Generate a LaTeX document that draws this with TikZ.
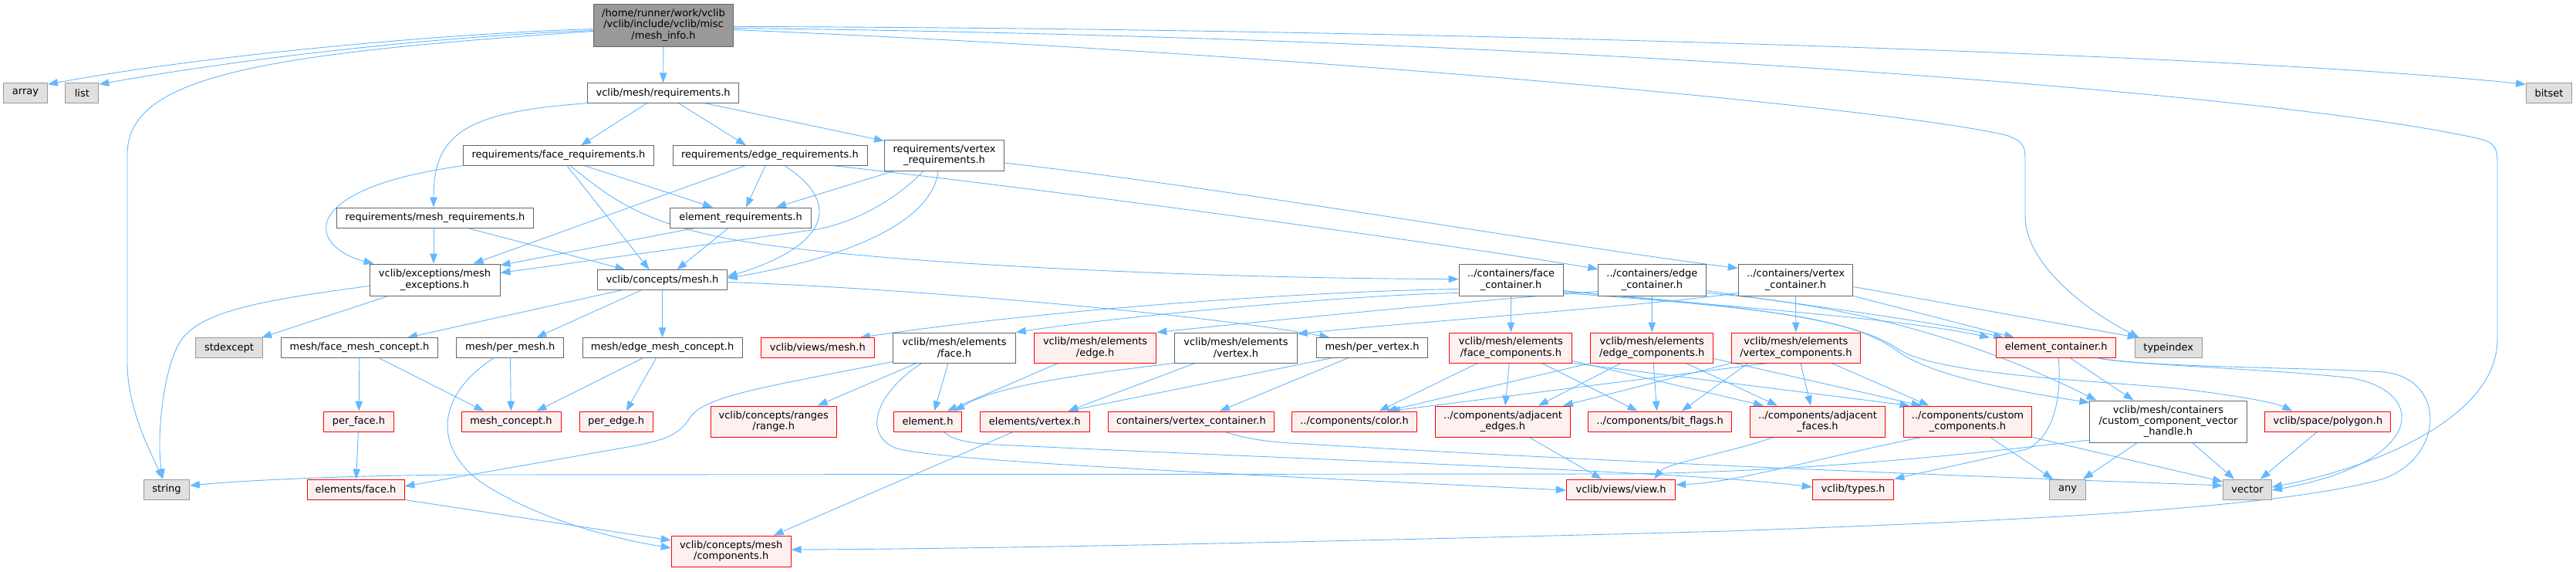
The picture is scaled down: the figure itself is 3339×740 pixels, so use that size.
\documentclass[tikz,border=0pt]{standalone}
\usepackage{fontspec}
\setmainfont{DejaVu Sans}
\usetikzlibrary{arrows.meta}
\pgfdeclarelayer{bg}
\pgfsetlayers{bg,main}
\definecolor{eblue}{HTML}{63B8FF}
\definecolor{nborder}{HTML}{666666}
\definecolor{gborder}{HTML}{999999}
\definecolor{gfill}{HTML}{E0E0E0}
\definecolor{rfill}{HTML}{FFF0F0}
\definecolor{rootfill}{HTML}{999999}
\tikzset{
 box/.style={rectangle, draw, line width=0.9pt, inner sep=0pt, align=center, font=\fontsize{13}{14.4}\selectfont, minimum height=25.5pt},
 wn/.style={box, draw=nborder, fill=white},
 gn/.style={box, draw=gborder, fill=gfill},
 rn/.style={box, draw=red, fill=rfill},
 rootn/.style={box, draw=nborder, fill=rootfill},
 e/.style={draw=eblue, line width=0.9pt, -{Triangle[length=13pt,width=9.5pt]}},
}
\begin{document}
\begin{tikzpicture}[x=1pt,y=-1pt]
\useasboundingbox (0,0) rectangle (3339,740);
% nodes
\node[rootn, minimum width=181pt, minimum height=55pt] (root) at (860,32.5) {/home/runner/work/vclib\\/vclib/include/vclib/misc\\/mesh\_info.h};
\node[gn, minimum width=57pt] (array) at (33,120.5) {array};
\node[gn, minimum width=43pt] (list) at (106.4,120.5) {list};
\node[gn, minimum width=59pt, minimum height=26pt] (string) at (216,634) {string};
\node[gn, minimum width=87pt] (stdexcept) at (297,450.5) {stdexcept};
\node[wn, minimum width=203pt] (fmc) at (466,450.5) {mesh/face\_mesh\_concept.h};
\node[rn, minimum width=91pt, minimum height=26pt] (perface) at (465,546) {per\_face.h};
\node[rn, minimum width=126pt, minimum height=26pt] (elface) at (461,634) {elements/face.h};
\node[wn, minimum width=169pt, minimum height=41pt] (mexc) at (563.5,362.5) {vclib/exceptions/mesh\\\_exceptions.h};
\node[wn, minimum width=255pt, minimum height=26pt] (mreq) at (564,282) {requirements/mesh\_requirements.h};
\node[wn, minimum width=196pt] (req) at (859.6,120.5) {vclib/mesh/requirements.h};
\node[wn, minimum width=247pt] (freq) at (724,201.5) {requirements/face\_requirements.h};
\node[wn, minimum width=252pt] (ereq) at (998,201.5) {requirements/edge\_requirements.h};
\node[wn, minimum width=155pt, minimum height=40pt] (vreq) at (1224,201) {requirements/vertex\\\_requirements.h};
\node[wn, minimum width=183pt, minimum height=26pt] (elreq) at (960,282) {element\_requirements.h};
\node[wn, minimum width=167.5pt] (cmesh) at (858.5,362.5) {vclib/concepts/mesh.h};
\node[wn, minimum width=139pt] (pmesh) at (661.3,450.5) {mesh/per\_mesh.h};
\node[wn, minimum width=207pt] (emc) at (858.6,450.5) {mesh/edge\_mesh\_concept.h};
\node[rn, minimum width=147pt] (vmesh) at (1059.8,450.5) {vclib/views/mesh.h};
\node[rn, minimum width=129pt, minimum height=26pt] (mconc) at (662.5,546) {mesh\_concept.h};
\node[rn, minimum width=95pt, minimum height=26pt] (pedge) at (798.6,546) {per\_edge.h};
\node[rn, minimum width=162.5pt, minimum height=40pt] (range) at (1002.7,546) {vclib/concepts/ranges\\/range.h};
\node[rn, minimum width=155pt, minimum height=40pt] (comps) at (947.7,714) {vclib/concepts/mesh\\/components.h};
\node[wn, minimum width=158.5pt, minimum height=39pt] (mef) at (1237,450.5) {vclib/mesh/elements\\/face.h};
\node[rn, minimum width=158.5pt, minimum height=39pt] (mee) at (1419.6,450.5) {vclib/mesh/elements\\/edge.h};
\node[wn, minimum width=158.5pt, minimum height=39pt] (mev) at (1602,450.5) {vclib/mesh/elements\\/vertex.h};
\node[rn, minimum width=88.6pt, minimum height=26pt] (el) at (1202.5,546) {element.h};
\node[rn, minimum width=141.8pt, minimum height=26pt] (elv) at (1341.3,546) {elements/vertex.h};
\node[rn, minimum width=215pt, minimum height=26pt] (cvc) at (1544,546) {containers/vertex\_container.h};
\node[rn, minimum width=162pt, minimum height=26pt] (color) at (1755.5,546) {../components/color.h};
\node[wn, minimum width=144pt] (pv) at (1778.6,450.5) {mesh/per\_vertex.h};
\node[wn, minimum width=135pt, minimum height=41pt] (fc) at (1958.6,362.5) {../containers/face\\\_container.h};
\node[wn, minimum width=139.3pt, minimum height=41pt] (ec) at (2141.4,362.5) {../containers/edge\\\_container.h};
\node[wn, minimum width=148.6pt, minimum height=41pt] (vc) at (2327.5,362.5) {../containers/vertex\\\_container.h};
\node[rn, minimum width=159pt, minimum height=39pt] (fcomp) at (1958.4,450.5) {vclib/mesh/elements\\/face\_components.h};
\node[rn, minimum width=159pt, minimum height=39pt] (ecomp) at (2141.2,450.5) {vclib/mesh/elements\\/edge\_components.h};
\node[rn, minimum width=167pt, minimum height=39pt] (vcomp) at (2327.9,450.5) {vclib/mesh/elements\\/vertex\_components.h};
\node[rn, minimum width=175pt, minimum height=40pt] (adje) at (1948,546) {../components/adjacent\\\_edges.h};
\node[rn, minimum width=185.4pt, minimum height=26pt] (bitf) at (2151.6,546) {../components/bit\_flags.h};
\node[rn, minimum width=141.4pt, minimum height=26pt] (view) at (2101,634) {vclib/views/view.h};
\node[rn, minimum width=154.6pt] (elc) at (2665.2,450.5) {element\_container.h};
\node[gn, minimum width=87pt] (tindex) at (2810.7,450.5) {typeindex};
\node[rn, minimum width=174.6pt, minimum height=40pt] (adjf) at (2356,546) {../components/adjacent\\\_faces.h};
\node[rn, minimum width=166.8pt, minimum height=40pt] (custc) at (2550.5,546) {../components/custom\\\_components.h};
\node[rn, minimum width=105.7pt, minimum height=26pt] (types) at (2402,634) {vclib/types.h};
\node[gn, minimum width=46.4pt, minimum height=26pt] (any) at (2680,634) {any};
\node[wn, minimum width=203.2pt, minimum height=54pt] (cvh) at (2810.5,546) {vclib/mesh/containers\\/custom\_component\_vector\\\_handle.h};
\node[gn, minimum width=63pt, minimum height=26pt] (vector) at (2913,634) {vector};
\node[rn, minimum width=163pt, minimum height=26pt] (polygon) at (3017.4,546) {vclib/space/polygon.h};
\node[gn, minimum width=59pt] (bitset) at (3304,120.5) {bitset};
% edges
\begin{pgfonlayer}{bg}
\fill[white] (0,0) rectangle (3339,740);
% root
\draw[e] ([yshift=-5pt]root.west) .. controls (560,44) and (250,74) .. ([yshift=-2pt]array.north east);
\draw[e] ([yshift=-7pt]root.west) .. controls (560,47) and (300,78) .. ([yshift=-2pt]list.north east);
\draw[e] ([yshift=-8pt]root.west) .. controls (330,70) and (165,100) .. (165,200) -- (165,470) .. controls (165,530) and (195,585) .. ([xshift=-5pt]string.north);
\draw[e] (root) -- (req);
\draw[e] ([yshift=-2pt]root.east) .. controls (1800,36) and (2900,70) .. ([yshift=-2pt]bitset.north west);
\draw[e] ([yshift=-4pt]root.east) .. controls (2000,48) and (2950,120) .. (3215,180) .. controls (3237,186) and (3237,195) .. (3237,215) -- (3237,440) .. controls (3237,540) and (3080,605) .. ([yshift=3pt]vector.east);
\draw[e] ([yshift=-6pt]root.east) .. controls (1700,70) and (2450,140) .. (2600,175) .. controls (2622,182) and (2625,190) .. (2625,205) -- (2625,280) .. controls (2625,340) and (2700,400) .. ([xshift=-38pt]tindex.north);
% requirements
\draw[e] (req.south west) .. controls (600,145) and (562,175) .. ([xshift=-2pt]mreq.north);
\draw[e] ([xshift=-21pt]req.south) -- ([xshift=29pt]freq.north);
\draw[e] ([xshift=20pt]req.south) -- ([xshift=-31pt]ereq.north);
\draw[e] ([xshift=54pt]req.south) -- ([yshift=-2pt]vreq.north west);
% face req
\draw[e] (freq.south west) .. controls (380,245) and (400,320) .. ([xshift=6pt]mexc.north west);
\draw[e] ([xshift=34pt]freq.south) -- ([xshift=-36pt]elreq.north);
\draw[e] ([xshift=11pt]freq.south) -- ([xshift=-17pt]cmesh.north);
\draw[e] ([xshift=15pt]freq.south) .. controls (790,255) and (830,290) .. (960,312) .. controls (1150,344) and (1600,361) .. ([yshift=1pt]fc.west);
% edge req
\draw[e] ([xshift=-32pt]ereq.south) -- ([xshift=50pt]mexc.north);
\draw[e] ([xshift=-6pt]ereq.south) -- ([xshift=7pt]elreq.north);
\draw[e] ([xshift=19pt]ereq.south) .. controls (1095,265) and (1070,320) .. ([yshift=4pt]cmesh.east);
\draw[e] ([xshift=83pt]ereq.south) .. controls (1400,250) and (1900,320) .. ([yshift=14pt]ec.west);
% vertex req
\draw[e] ([yshift=-10pt]vreq.east) .. controls (1600,245) and (2000,315) .. ([yshift=15pt]vc.west);
\draw[e] ([xshift=-65pt]vreq.south) -- ([xshift=46pt]elreq.north);
\draw[e] ([xshift=-27pt]vreq.south) .. controls (1170,250) and (1120,285) .. (1060,297) -- ([yshift=9pt]mexc.east);
\draw[e] ([xshift=-8pt]vreq.south) .. controls (1210,280) and (1120,330) .. ([yshift=2pt]cmesh.east);
% mesh req, element req
\draw[e] ([xshift=-2pt]mreq.south) -- ([xshift=-1.5pt]mexc.north);
\draw[e] ([xshift=42pt]mreq.south) -- ([xshift=-48pt]cmesh.north);
\draw[e] ([xshift=-59pt]elreq.south) -- ([yshift=-2pt]mexc.north east);
\draw[e] ([xshift=-16pt]elreq.south) -- ([xshift=19pt]cmesh.north);
% exceptions
\draw[e] ([yshift=-8pt]mexc.west) .. controls (330,390) and (255,405) .. (232,445) .. controls (210,485) and (203,570) .. ([xshift=-5pt]string.north);
\draw[e] ([xshift=-60pt]mexc.south) -- ([xshift=42pt]stdexcept.north);
% concepts/mesh
\draw[e] ([xshift=-52pt]cmesh.south) -- ([xshift=62pt]fmc.north);
\draw[e] ([xshift=-27pt]cmesh.south) -- ([xshift=34pt]pmesh.north);
\draw[e] (cmesh) -- (emc);
\draw[e] ([yshift=-3pt]cmesh.east) .. controls (1150,372) and (1550,405) .. ([xshift=-55pt]pv.north);
% face mesh concept etc
\draw[e] (fmc) -- (perface);
\draw[e] ([xshift=25pt]fmc.south) -- ([xshift=-35pt]mconc.north);
\draw[e] (perface) -- (elface);
\draw[e] (pmesh) -- (mconc);
\draw[e] ([xshift=-21pt]pmesh.south) .. controls (560,515) and (560,590) .. (640,635) .. controls (700,670) and (780,695) .. ([yshift=4pt]comps.west);
\draw[e] ([xshift=-25pt]emc.south) -- ([xshift=33pt]mconc.north);
\draw[e] ([xshift=-8pt]emc.south) -- ([xshift=13pt]pedge.north);
\draw[e] (elface.south east) -- ([yshift=14pt]comps.west);
% mesh elements
\draw[e] ([yshift=-18pt]mef.west) .. controls (1000,500) and (915,512) .. (895,540) .. controls (880,565) and (860,570) .. (820,578) -- ([yshift=4pt]elface.east);
\draw[e] ([xshift=-49pt]mef.south) -- ([xshift=57pt]range.north);
\draw[e] ([xshift=-8pt]mef.south) -- ([xshift=8.5pt]el.north);
\draw[e] ([xshift=-42pt]mef.south) .. controls (1140,505) and (1115,560) .. (1160,580) .. controls (1200,595) and (1500,610) .. ([yshift=-1pt]view.west);
\draw[e] ([xshift=-48pt]mee.south) -- ([xshift=25pt]el.north);
\draw[e] (mev.south west) .. controls (1400,485) and (1290,500) .. ([xshift=35pt]el.north);
\draw[e] ([xshift=-53pt]mev.south) -- ([xshift=43pt]elv.north);
\draw[e] ([xshift=21pt]el.south) .. controls (1235,570) and (1255,574) .. (1290,576) .. controls (1800,600) and (2200,612) .. ([yshift=3pt]types.west);
\draw[e] ([xshift=-28pt]elv.south) -- ([xshift=55pt]comps.north);
\draw[e] ([xshift=44pt]cvc.south) .. controls (1620,570) and (1650,573) .. (1690,575) .. controls (2200,605) and (2700,622) .. ([yshift=5pt]vector.west);
\draw[e] ([xshift=-52pt]pv.south) -- ([xshift=43pt]elv.north);
\draw[e] ([xshift=-31pt]pv.south) -- ([xshift=37pt]cvc.north);
% containers
\draw[e] ([yshift=-12pt]fc.west) .. controls (1750,376) and (1400,395) .. ([xshift=55pt]vmesh.north);
\draw[e] ([yshift=-17pt]fc.west) .. controls (1750,382) and (1450,410) .. (mef.north east);
\draw[e] (fc) -- (fcomp);
\draw[e] ([yshift=-14pt]fc.east) .. controls (2200,395) and (2450,410) .. ([xshift=-86pt]elc.north);
\draw[e] ([yshift=-17pt]fc.east) .. controls (2300,400) and (2400,412) .. (2460,455) .. controls (2500,485) and (2600,505) .. ([yshift=-3pt]cvh.north west);
\draw[e] ([yshift=-15pt]fc.east) .. controls (2300,398) and (2410,418) .. (2460,452) .. controls (2510,485) and (2700,492) .. (2820,503) .. controls (2900,512) and (2950,522) .. ([xshift=-46pt]polygon.north);
\draw[e] ([yshift=-15pt]ec.west) .. controls (1900,390) and (1600,420) .. (mee.north east);
\draw[e] (ec) -- (ecomp);
\draw[e] ([yshift=-14pt]ec.east) .. controls (2300,390) and (2500,415) .. ([xshift=-68pt]elc.north);
\draw[e] ([yshift=-17pt]ec.east) .. controls (2400,395) and (2560,440) .. ([xshift=-93pt]cvh.north);
\draw[e] ([yshift=-17pt]vc.west) .. controls (2150,395) and (1800,420) .. ([yshift=18pt]mev.east);
\draw[e] (vc) -- (vcomp);
\draw[e] (vc.south east) -- ([xshift=-54pt]elc.north);
\draw[e] ([yshift=-9pt]vc.east) -- ([xshift=-40pt]tindex.north);
% components
\draw[e] ([xshift=-43pt]fcomp.south) -- ([xshift=32pt]color.north);
\draw[e] ([xshift=-2pt]fcomp.south) -- ([xshift=3pt]adje.north);
\draw[e] ([xshift=40pt]fcomp.south) -- ([xshift=-29pt]bitf.north);
\draw[e] ([yshift=-17pt]fcomp.east) -- ([xshift=-70pt]adjf.north);
\draw[e] (fcomp.south east) -- ([xshift=-75pt]custc.north);
\draw[e] (ecomp.south west) -- ([xshift=42pt]color.north);
\draw[e] ([xshift=-40pt]ecomp.south) -- ([xshift=46pt]adje.north);
\draw[e] ([xshift=2pt]ecomp.south) -- ([xshift=-4pt]bitf.north);
\draw[e] ([xshift=44pt]ecomp.south) -- ([xshift=-52pt]adjf.north);
\draw[e] ([yshift=-14pt]ecomp.east) -- ([xshift=-60pt]custc.north);
\draw[e] ([xshift=-36pt]vcomp.south) -- ([xshift=46pt]color.north);
\draw[e] (vcomp.south west) -- ([xshift=78pt]adje.north);
\draw[e] ([xshift=-62pt]vcomp.south) -- ([xshift=28pt]bitf.north);
\draw[e] ([xshift=6pt]vcomp.south) -- ([xshift=-9pt]adjf.north);
\draw[e] ([xshift=46pt]vcomp.south) -- ([xshift=-50pt]custc.north);
% bottom
\draw[e] ([xshift=34pt]adje.south) -- ([xshift=-25pt]view.north);
\draw[e] ([xshift=-57pt]adjf.south) .. controls (2240,587) and (2160,600) .. ([xshift=43pt]view.north);
\draw[e] ([xshift=-60pt]custc.south) .. controls (2350,595) and (2250,625) .. ([yshift=6pt]view.east);
\draw[e] ([yshift=-24pt]cvh.west) .. controls (2500,595) and (2300,612) .. (2100,614) -- (600,615) .. controls (450,616) and (320,622) .. ([yshift=5pt]string.east);
\draw[e] ([xshift=18pt]elc.south) -- ([xshift=-45pt]cvh.north);
\draw[e] ([xshift=3pt]elc.south) .. controls (2672,510) and (2665,560) .. (2630,581) .. controls (2560,598) and (2500,610) .. (types.north east);
\draw[e] ([xshift=53pt]elc.south) .. controls (2760,473) and (2950,478) .. (3050,490) .. controls (3150,510) and (3140,600) .. ([yshift=-1pt]vector.east);
\draw[e] ([xshift=55pt]elc.south) .. controls (2780,476) and (3000,476) .. (3090,482) .. controls (3170,490) and (3170,590) .. (3090,620) .. controls (2950,660) and (2600,675) .. (2240,688) .. controls (1800,700) and (1300,711) .. ([yshift=2pt]comps.east);
\draw[e] ([xshift=29pt]custc.south) -- ([xshift=-19pt]any.north);
\draw[e] ([xshift=-40pt]cvh.south) -- ([xshift=20pt]any.north);
\draw[e] ([xshift=31pt]cvh.south) -- ([xshift=-17pt]vector.north);
\draw[e] ([xshift=-14pt]polygon.south) -- ([xshift=17pt]vector.north);
\draw[e] (custc.south east) -- ([yshift=10pt]vector.west);
\end{pgfonlayer}
\end{tikzpicture}
\end{document}
